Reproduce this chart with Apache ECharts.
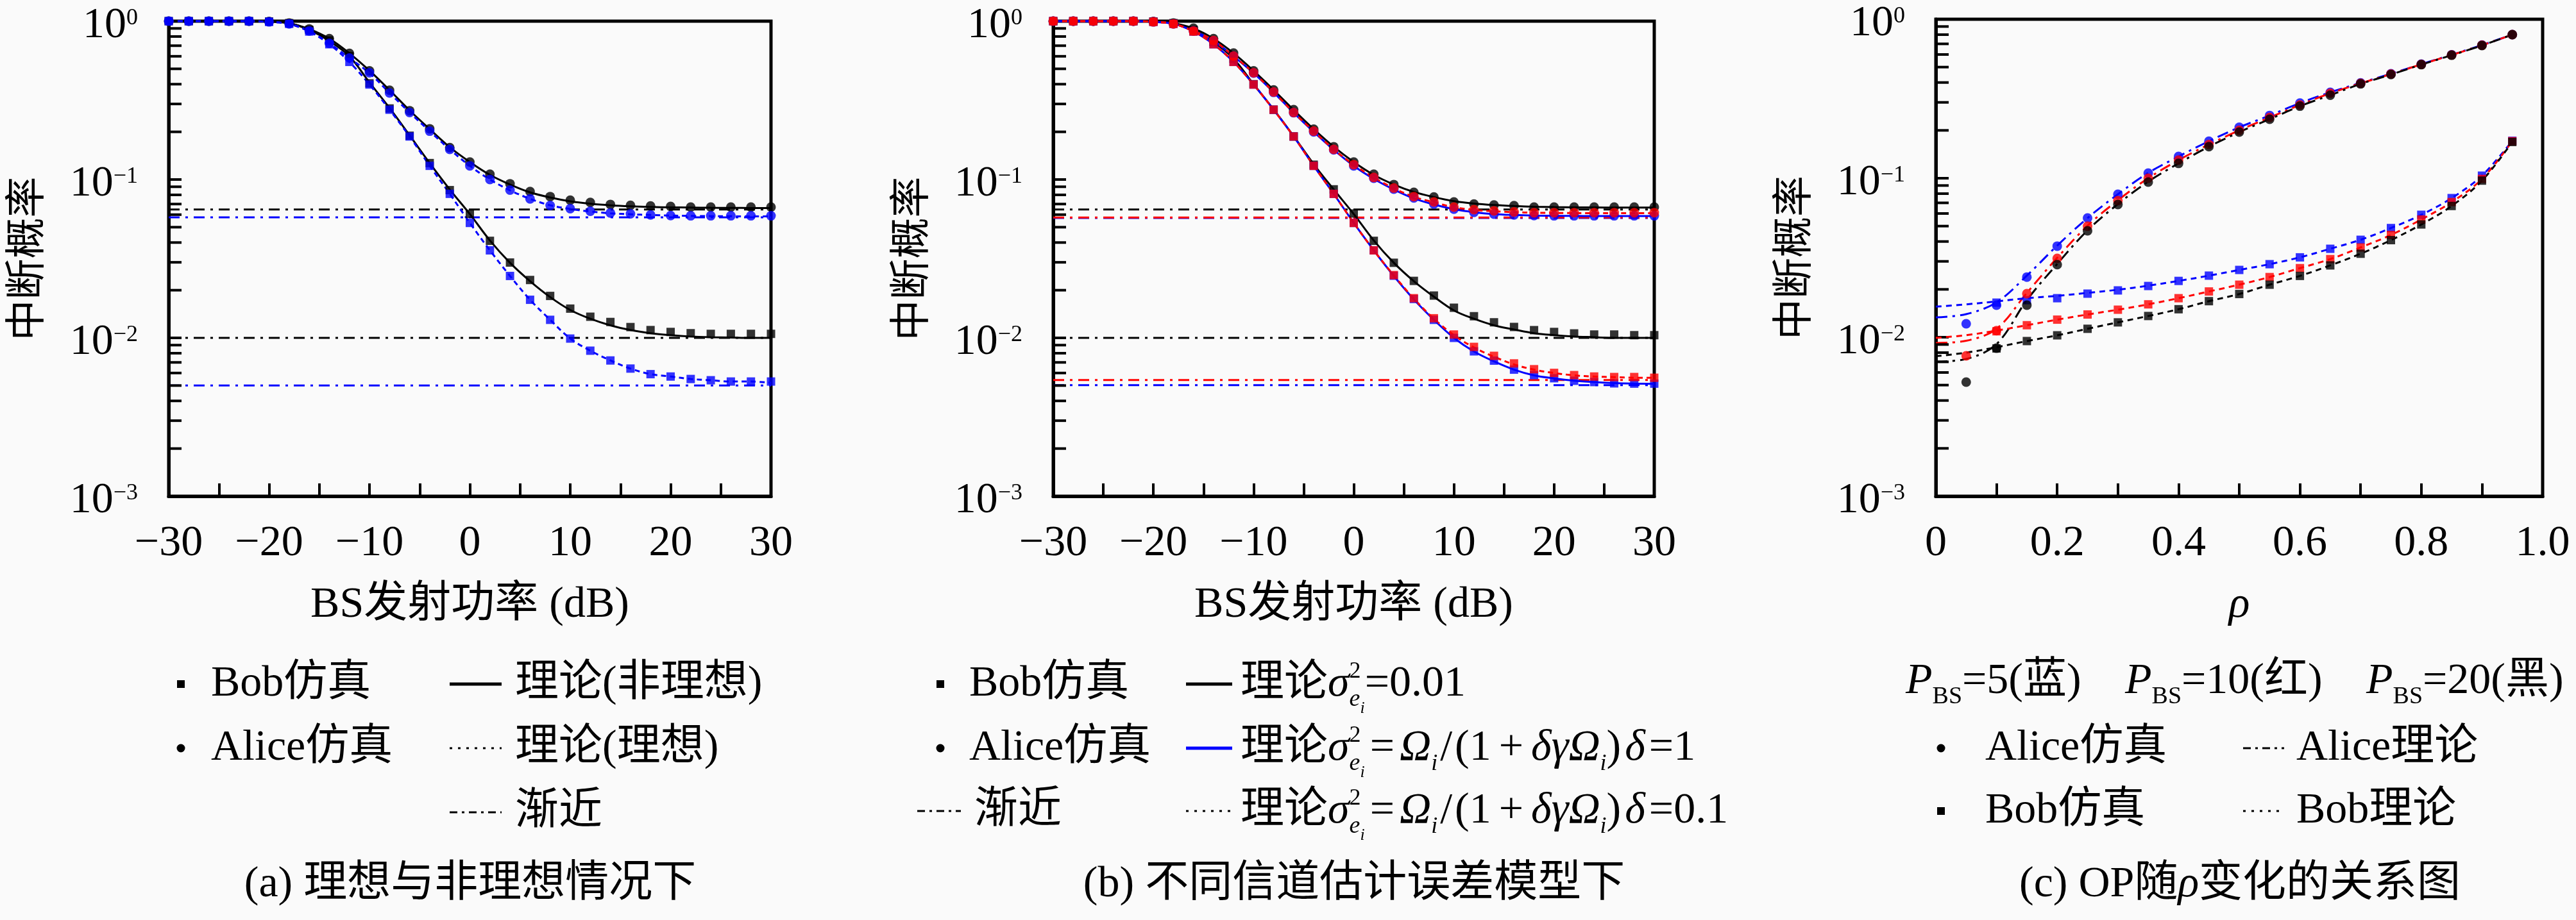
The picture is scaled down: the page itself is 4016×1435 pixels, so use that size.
<!DOCTYPE html>
<html><head><meta charset="utf-8">
<script src="https://cdn.jsdelivr.net/npm/echarts/dist/echarts.min.js"></script>
<style>html,body{margin:0;padding:0;background:#fafafa}#c{width:4016px;height:1435px}</style>
</head><body><div id="c"></div>
<script>
// ---------------- data ----------------
const xA = [-30,-28,-26,-24,-22,-20,-18,-16,-14,-12,-10,-8,-6,-4,-2,0,2,4,6,8,10,12,14,16,18,20,22,24,26,28,30];

// panel (a)
const aAliceSimNon   = [1,1,1,1,1,0.995,0.972,0.893,0.776,0.626,0.485,0.366,0.272,0.209,0.159,0.129,0.108,0.094,0.084,0.078,0.074,0.0717,0.0696,0.0687,0.068,0.0676,0.067,0.067,0.067,0.067,0.067];
const aBobSimNon     = [1,1,1,1,1,0.995,0.972,0.88,0.755,0.602,0.405,0.281,0.189,0.127,0.0857,0.0606,0.041,0.0299,0.0232,0.0184,0.0153,0.0136,0.0126,0.0117,0.0112,0.0109,0.0107,0.0106,0.0106,0.0106,0.0106];
const aAliceSimIdeal = [1,1,1,1,1,0.99,0.962,0.868,0.725,0.585,0.472,0.352,0.265,0.202,0.155,0.122,0.1,0.0857,0.0755,0.0685,0.0655,0.063,0.0615,0.0607,0.0598,0.0592,0.059,0.059,0.059,0.059,0.059];
const aBobSimIdeal   = [1,1,1,1,1,0.99,0.962,0.86,0.715,0.553,0.398,0.276,0.187,0.122,0.0812,0.0532,0.0357,0.0246,0.0174,0.013,0.0099,0.0083,0.0072,0.0064,0.0059,0.0057,0.0055,0.0054,0.0053,0.0053,0.0053];
const aAliceThNon    = [1,1,1,1,1,0.995,0.97,0.89,0.775,0.627,0.487,0.367,0.273,0.208,0.16,0.129,0.107,0.093,0.083,0.077,0.0728,0.0703,0.0687,0.0677,0.0671,0.0667,0.0665,0.0663,0.0662,0.0661,0.0661];
const aBobThNon      = [1,1,1,1,1,0.995,0.97,0.88,0.75,0.60,0.41,0.283,0.19,0.127,0.0865,0.0605,0.0412,0.0298,0.0228,0.0181,0.0150,0.0132,0.0120,0.0112,0.0107,0.0104,0.0102,0.0101,0.01005,0.0100,0.0100];
const aAliceThIdeal  = [1,1,1,1,1,0.99,0.96,0.866,0.725,0.585,0.47,0.352,0.265,0.202,0.155,0.122,0.1,0.0855,0.0755,0.0688,0.0652,0.0628,0.0612,0.0603,0.0597,0.0592,0.0589,0.0587,0.0586,0.0585,0.0585];
const aBobThIdeal    = [1,1,1,1,1,0.99,0.96,0.86,0.715,0.553,0.398,0.276,0.187,0.122,0.0812,0.0532,0.0357,0.0246,0.0174,0.013,0.0099,0.0083,0.0072,0.0064,0.0059,0.0057,0.0055,0.0054,0.0053,0.0053,0.0052];
const asymA = [0.0646, 0.0577, 0.0100, 0.0050];

// panel (b)
const bAliceSim001 = [1,1,1,1,1,0.995,0.972,0.903,0.776,0.629,0.485,0.368,0.276,0.208,0.161,0.129,0.108,0.0929,0.083,0.0775,0.0722,0.070,0.069,0.0684,0.067,0.067,0.067,0.067,0.067,0.067,0.067];
const bAliceSim1   = [1,1,1,1,1,0.99,0.962,0.868,0.75,0.6,0.47,0.355,0.264,0.2,0.154,0.122,0.102,0.087,0.0765,0.07,0.065,0.062,0.0605,0.0598,0.0592,0.059,0.059,0.059,0.059,0.059,0.059];
const bAliceSim01  = [1,1,1,1,1,0.99,0.962,0.868,0.755,0.602,0.472,0.357,0.265,0.202,0.155,0.124,0.103,0.0883,0.078,0.0722,0.067,0.0645,0.0634,0.0624,0.0618,0.0618,0.0618,0.0618,0.0618,0.0618,0.0618];
const bBobSim001   = [1,1,1,1,1,0.995,0.972,0.88,0.74,0.58,0.40,0.276,0.187,0.124,0.0867,0.061,0.041,0.0298,0.0229,0.0185,0.0155,0.0137,0.01254,0.01172,0.01119,0.0109,0.01067,0.0105,0.0105,0.0104,0.0104];
const bBobSim1     = [1,1,1,1,1,0.99,0.962,0.86,0.715,0.553,0.398,0.276,0.187,0.122,0.0812,0.0532,0.0357,0.0247,0.0176,0.013,0.0100,0.00822,0.00718,0.0063,0.00582,0.00556,0.00536,0.00526,0.00516,0.00514,0.00514];
const bBobSim01    = [1,1,1,1,1,0.99,0.962,0.86,0.715,0.553,0.398,0.276,0.187,0.122,0.0812,0.0532,0.0357,0.0249,0.0178,0.0133,0.0105,0.00877,0.0077,0.0069,0.00634,0.00601,0.00582,0.0057,0.00566,0.00566,0.0056];
const bAliceTh001  = [1,1,1,1,1,0.995,0.97,0.9,0.776,0.628,0.486,0.368,0.275,0.208,0.161,0.129,0.107,0.093,0.0835,0.0775,0.073,0.0705,0.069,0.068,0.0673,0.0669,0.0667,0.0666,0.0665,0.0665,0.0665];
const bBobTh001    = [1,1,1,1,1,0.995,0.97,0.88,0.74,0.58,0.40,0.277,0.188,0.125,0.0865,0.0605,0.0412,0.0298,0.0228,0.0182,0.0149,0.0132,0.0120,0.0113,0.0107,0.0104,0.0102,0.0101,0.0100,0.0100,0.0100];
const bAliceTh1    = [1,1,1,1,1,0.99,0.962,0.868,0.75,0.6,0.47,0.355,0.264,0.2,0.154,0.122,0.101,0.0865,0.076,0.0695,0.065,0.0622,0.0605,0.0597,0.0592,0.059,0.0589,0.0588,0.0588,0.0588,0.0588];
const bBobTh1      = [1,1,1,1,1,0.99,0.962,0.86,0.715,0.553,0.398,0.276,0.187,0.122,0.0812,0.0532,0.0357,0.0246,0.0175,0.0130,0.0100,0.0082,0.0071,0.0063,0.0058,0.00555,0.00537,0.00526,0.00518,0.00514,0.00512];
const bAliceTh01   = [1,1,1,1,1,0.99,0.962,0.868,0.755,0.602,0.472,0.357,0.265,0.202,0.155,0.124,0.103,0.088,0.0778,0.0718,0.0668,0.0643,0.0630,0.0622,0.0617,0.0615,0.0614,0.0613,0.0613,0.0613,0.0613];
const bBobTh01     = [1,1,1,1,1,0.99,0.962,0.86,0.715,0.553,0.398,0.276,0.187,0.122,0.0812,0.0532,0.0357,0.0248,0.0177,0.0132,0.0104,0.0087,0.0076,0.0068,0.0063,0.0060,0.0058,0.0057,0.00565,0.0056,0.0056];
const asymB = [0.0647, 0.0572, 0.0575, 0.0100, 0.00503, 0.00542];

// panel (c)
const cAliceX = [0.05,0.1,0.15,0.2,0.25,0.3,0.35,0.4,0.45,0.5,0.55,0.6,0.65,0.7,0.75,0.8,0.85,0.9,0.95];
const cBobX   = [0.1,0.15,0.2,0.25,0.3,0.35,0.4,0.45,0.5,0.55,0.6,0.65,0.7,0.75,0.8,0.85,0.9,0.95];
const cThX    = [0,0.05,0.1,0.15,0.2,0.25,0.3,0.35,0.4,0.45,0.5,0.55,0.6,0.65,0.7,0.75,0.8,0.85,0.9,0.95];
const cAliceSim5  = [0.01216,0.0159,0.0239,0.0374,0.0562,0.0793,0.1077,0.137,0.171,0.209,0.248,0.297,0.347,0.398,0.454,0.522,0.598,0.688,0.80];
const cAliceSim10 = [0.00764,0.011,0.0188,0.0313,0.0499,0.0722,0.1,0.130,0.163,0.200,0.241,0.289,0.342,0.395,0.452,0.520,0.596,0.686,0.80];
const cAliceSim20 = [0.00522,0.00853,0.0159,0.0286,0.0467,0.0684,0.0946,0.124,0.158,0.195,0.235,0.284,0.333,0.392,0.449,0.518,0.594,0.684,0.80];
const cBobSim5  = [0.0165,0.0171,0.0176,0.0188,0.0197,0.021,0.0226,0.0244,0.0265,0.0288,0.0318,0.036,0.041,0.0486,0.0589,0.075,0.1038,0.172];
const cBobSim10 = [0.0109,0.0119,0.0129,0.0139,0.0149,0.0161,0.0176,0.0194,0.0214,0.0239,0.0272,0.031,0.0367,0.044,0.055,0.0708,0.099,0.171];
const cBobSim20 = [0.0085,0.00946,0.01028,0.0113,0.0124,0.0136,0.0150,0.01686,0.0187,0.0214,0.0243,0.0283,0.0335,0.0408,0.0512,0.0669,0.0966,0.169];
const cBobTh5  = [0.01557,0.0161,0.0168,0.0176,0.0182,0.019,0.0199,0.0211,0.0226,0.0244,0.0265,0.0288,0.0318,0.036,0.041,0.0486,0.0589,0.075,0.1038,0.172];
const cBobTh10 = [0.0099,0.0103,0.011,0.0119,0.0129,0.0139,0.0149,0.0161,0.0176,0.0194,0.0214,0.0239,0.0272,0.031,0.0367,0.044,0.055,0.0708,0.099,0.171];
const cBobTh20 = [0.0076,0.008,0.00865,0.00946,0.01028,0.0113,0.0124,0.0136,0.015,0.01686,0.0187,0.0214,0.0243,0.0283,0.0335,0.0408,0.0512,0.0669,0.0966,0.169];
const cAliceTh5  = [0.01333,0.01397,0.01656,0.0244,0.0377,0.0562,0.0793,0.108,0.137,0.171,0.209,0.248,0.297,0.347,0.398,0.454,0.522,0.598,0.688,0.80];
const cAliceTh10 = [0.0092,0.0095,0.0113,0.019,0.0316,0.0503,0.0727,0.1,0.130,0.163,0.2,0.241,0.289,0.342,0.395,0.452,0.52,0.596,0.686,0.80];
const cAliceTh20 = [0.00703,0.0073,0.00906,0.0171,0.0289,0.047,0.0688,0.0953,0.124,0.158,0.195,0.235,0.284,0.333,0.392,0.449,0.518,0.594,0.684,0.80];

// axis tick values
const yMinorTicks = [0.002,0.003,0.004,0.005,0.006,0.007,0.008,0.009,0.02,0.03,0.04,0.05,0.06,0.07,0.08,0.09,0.2,0.3,0.4,0.5,0.6,0.7,0.8,0.9];

// ---------------- styles / helpers ----------------
const FONT = '"Liberation Serif", "Noto Sans CJK SC", serif';
const CJK = '"Noto Sans CJK SC", "Liberation Serif", serif';
const BLACK = '#000000', BLUE = '#0000ff', RED = '#ff0000';
const DOT = [8, 6], DASHDOT = [17, 9, 4, 9], CDOT = [9, 7], CDASHDOT = [18, 8, 4, 8];

function pairs(xs, ys) { return xs.map((x, i) => [x, ys[i]]); }
function sim(gi, xs, ys, shape, color, z) {
  return { type: 'scatter', xAxisIndex: gi, yAxisIndex: gi, data: pairs(xs, ys), symbol: shape,
    symbolSize: shape === 'rect' ? 13 : 15, itemStyle: { color: color }, z: z, silent: true, clip: false };
}
function theory(gi, xs, ys, color, type) {
  return { type: 'line', xAxisIndex: gi, yAxisIndex: gi, data: pairs(xs, ys), showSymbol: false, symbol: 'none',
    smooth: 0.35, lineStyle: { color: color, width: 3, type: type }, z: 2, silent: true, clip: false };
}
function asym(gi, xs, v, color) {
  return { type: 'line', xAxisIndex: gi, yAxisIndex: gi, data: [[xs[0], v], [xs[xs.length - 1], v]], showSymbol: false,
    symbol: 'none', lineStyle: { color: color, width: 3, type: DASHDOT }, z: 1, silent: true, clip: false };
}
function minorTicks(gi, xmin) {
  return { type: 'custom', xAxisIndex: gi, yAxisIndex: gi, silent: true, clip: false, z: 10,
    data: yMinorTicks.map(v => [xmin, v]),
    renderItem: function (params, api) {
      const p = api.coord([api.value(0), api.value(1)]);
      return { type: 'line', shape: { x1: p[0], y1: p[1], x2: p[0] + 20, y2: p[1] }, style: { stroke: '#000', lineWidth: 4 } };
    } };
}
function xAxisCfg(gi, min, max, interval, fmt, name, nameFont) {
  return { gridIndex: gi, type: 'value', min: min, max: max, interval: interval,
    axisLine: { show: true, onZero: false, lineStyle: { color: '#000', width: 5 } },
    axisTick: { show: true, inside: true, length: 20, lineStyle: { color: '#000', width: 4 } },
    splitLine: { show: false },
    axisLabel: { formatter: fmt, margin: 40, fontSize: 68, fontFamily: FONT, color: '#000' },
    name: name, nameLocation: 'middle', nameGap: 136,
    nameTextStyle: { fontSize: 68, fontFamily: FONT, color: '#000', fontStyle: nameFont || 'normal' } };
}
function yAxisCfg(gi) {
  return { gridIndex: gi, type: 'log', logBase: 10, min: 0.001, max: 1,
    axisLine: { show: true, onZero: false, lineStyle: { color: '#000', width: 5 } },
    axisTick: { show: true, inside: true, length: 20, lineStyle: { color: '#000', width: 4 } },
    splitLine: { show: false }, minorTick: { show: false },
    axisLabel: { margin: 48, padding: [14, 0, 0, 0],
      formatter: function (v) { const e = Math.round(Math.log10(v)); return '{b|10}{s|' + (e === 0 ? '0' : '\u2212' + (-e)) + '}'; },
      rich: { b: { fontSize: 68, fontFamily: FONT, color: '#000' }, s: { fontSize: 36, fontFamily: FONT, color: '#000', padding: [0, 0, 22, 0] } } },
    name: '中断概率', nameLocation: 'middle', nameGap: 193,
    nameTextStyle: { fontSize: 64, fontFamily: CJK, color: '#000' } };
}
const fmtDB = v => (v % 10 === 0) ? (v < 0 ? '\u2212' + (-v) : String(v)) : '';
const fmtRho = v => { const k = Math.round(v * 10); if (k % 2) return ''; return k === 0 ? '0' : (k / 10).toFixed(1); };

// text layout helpers for legends (math-like text)
const mctx = document.createElement('canvas').getContext('2d');
function fnt(s, it) { return (it ? 'italic ' : '') + s + 'px ' + FONT; }
function tw(t, s, it) { mctx.font = fnt(s, it); return mctx.measureText(t).width; }
function txtEl(x, y, t, s, it) {
  return { type: 'text', x: x, y: y, silent: true, z: 100,
    style: { text: t, font: fnt(s, it), fill: '#000', textAlign: 'left', textVerticalAlign: 'middle', align: 'left', verticalAlign: 'middle' } };
}
function mathText(x0, y, pieces, align) {
  let x = 0, markX = 0, maxX = 0; const items = [];
  pieces.forEach(p => {
    if (p === 'mark') { markX = x; maxX = x; return; }
    if (p === 'reset') { maxX = Math.max(maxX, x); x = markX; return; }
    if (p === 'join') { x = Math.max(maxX, x); return; }
    if (typeof p === 'number') { x += p; return; }
    const t = p[0], s = p[1] || 68, it = !!p[2], b = p[3] || 0;
    items.push({ t, s, it, b, x });
    x += tw(t, s, it);
  });
  const off = align === 'center' ? x0 - x / 2 : x0;
  return items.map(o => txtEl(off + o.x, y + o.b + 0.34 * (68 - o.s), o.t, o.s, o.it));
}
function lgRect(x, y) { return { type: 'rect', silent: true, z: 100, shape: { x: x - 6, y: y - 6, width: 12, height: 12 }, style: { fill: '#000' } }; }
function lgCircle(x, y) { return { type: 'circle', silent: true, z: 100, shape: { cx: x, cy: y, r: 6.5 }, style: { fill: '#000' } }; }
function lgLine(x1, x2, y, color, width, dash) {
  return { type: 'line', silent: true, z: 100, shape: { x1: x1, y1: y, x2: x2, y2: y }, style: { stroke: color, lineWidth: width, lineDash: dash || null } };
}
const sigmaPart = [['理论'], ['σ', 68, true], 'mark', ['2', 36, false, -30], 'reset', ['e', 38, true, 14], ['i', 26, true, 24], 'join'];
const fracPart = [8, ['='], 8, ['Ω', 68, true], ['i', 36, true, 14], 4, ['/'], 4, ['(1'], 12, ['+'], 12, ['δγΩ', 68, true], ['i', 36, true, 14], [')'], 6, ['δ', 68, true], 6];

const graphics = [].concat(
  // legend (a)
  [lgRect(282, 1067), txtEl(329, 1067, 'Bob仿真', 68), lgLine(701, 782, 1067, '#000', 5), txtEl(803, 1067, '理论(非理想)', 68),
   lgCircle(282, 1167), txtEl(329, 1167, 'Alice仿真', 68), lgLine(701, 782, 1167, '#000', 3, [4, 9]), txtEl(803, 1167, '理论(理想)', 68),
   lgLine(701, 782, 1267, '#000', 3, [12, 7, 4, 7]), txtEl(803, 1267, '渐近', 68)],
  mathText(733, 1380, [['(a) 理想与非理想情况下']], 'center'),
  // legend (b)
  [lgRect(1466, 1067), txtEl(1511, 1067, 'Bob仿真', 68), lgLine(1849, 1921, 1067, '#000', 5),
   lgCircle(1466, 1167), txtEl(1511, 1167, 'Alice仿真', 68), lgLine(1849, 1921, 1167, BLUE, 5),
   lgLine(1430, 1498, 1265, '#000', 3, [12, 7, 4, 7]), txtEl(1519, 1265, '渐近', 68), lgLine(1849, 1921, 1265, '#000', 3, [4, 9])],
  mathText(1934, 1067, sigmaPart.concat([['=0.01']])),
  mathText(1934, 1167, sigmaPart.concat(fracPart, [['=1']])),
  mathText(1934, 1265, sigmaPart.concat(fracPart, [['=0.1']])),
  mathText(2111, 1380, [['(b) 不同信道估计误差模型下']], 'center'),
  // legend (c)
  mathText(2971, 1063, [['P', 68, true], ['BS', 38, false, 14], ['=5(蓝)']]),
  mathText(3313, 1063, [['P', 68, true], ['BS', 38, false, 14], ['=10(红)']]),
  mathText(3689, 1063, [['P', 68, true], ['BS', 38, false, 14], ['=20(黑)']]),
  [lgCircle(3026, 1167), txtEl(3095, 1167, 'Alice仿真', 68), lgLine(3497, 3561, 1167, '#000', 3, [12, 7, 4, 7]), txtEl(3580, 1167, 'Alice理论', 68),
   lgRect(3026, 1265), txtEl(3095, 1265, 'Bob仿真', 68), lgLine(3497, 3561, 1265, '#000', 3, [4, 9]), txtEl(3580, 1265, 'Bob理论', 68)],
  mathText(3492, 1380, [['(c) OP随'], ['ρ', 68, true], ['变化的关系图']], 'center')
);

const series = [
  // (a)
  asym(0, xA, asymA[0], BLACK), asym(0, xA, asymA[1], BLUE), asym(0, xA, asymA[2], BLACK), asym(0, xA, asymA[3], BLUE),
  theory(0, xA, aAliceThNon, BLACK, 'solid'), theory(0, xA, aBobThNon, BLACK, 'solid'),
  theory(0, xA, aAliceThIdeal, BLUE, DOT), theory(0, xA, aBobThIdeal, BLUE, DOT),
  sim(0, xA, aAliceSimNon, 'circle', BLACK, 3), sim(0, xA, aBobSimNon, 'rect', BLACK, 3),
  sim(0, xA, aAliceSimIdeal, 'circle', BLUE, 4), sim(0, xA, aBobSimIdeal, 'rect', BLUE, 4),
  minorTicks(0, -30),
  // (b)
  asym(1, xA, asymB[0], BLACK), asym(1, xA, asymB[1], BLUE), asym(1, xA, asymB[2], RED),
  asym(1, xA, asymB[3], BLACK), asym(1, xA, asymB[4], BLUE), asym(1, xA, asymB[5], RED),
  theory(1, xA, bAliceTh001, BLACK, 'solid'), theory(1, xA, bBobTh001, BLACK, 'solid'),
  theory(1, xA, bAliceTh1, BLUE, 'solid'), theory(1, xA, bBobTh1, BLUE, 'solid'),
  theory(1, xA, bAliceTh01, RED, DOT), theory(1, xA, bBobTh01, RED, DOT),
  sim(1, xA, bAliceSim001, 'circle', BLACK, 3), sim(1, xA, bBobSim001, 'rect', BLACK, 3),
  sim(1, xA, bAliceSim1, 'circle', BLUE, 4), sim(1, xA, bBobSim1, 'rect', BLUE, 4),
  sim(1, xA, bAliceSim01, 'circle', RED, 5), sim(1, xA, bBobSim01, 'rect', RED, 5),
  minorTicks(1, -30),
  // (c)
  theory(2, cThX, cAliceTh5, BLUE, CDASHDOT), theory(2, cThX, cAliceTh10, RED, CDASHDOT), theory(2, cThX, cAliceTh20, BLACK, CDASHDOT),
  theory(2, cThX, cBobTh5, BLUE, CDOT), theory(2, cThX, cBobTh10, RED, CDOT), theory(2, cThX, cBobTh20, BLACK, CDOT),
  sim(2, cBobX, cBobSim5, 'rect', BLUE, 3), sim(2, cBobX, cBobSim10, 'rect', RED, 4), sim(2, cBobX, cBobSim20, 'rect', BLACK, 5),
  sim(2, cAliceX, cAliceSim5, 'circle', BLUE, 3), sim(2, cAliceX, cAliceSim10, 'circle', RED, 4), sim(2, cAliceX, cAliceSim20, 'circle', BLACK, 5),
  minorTicks(2, 0)
];

const chart = echarts.init(document.getElementById('c'), null, { renderer: 'canvas', width: 4016, height: 1435 });
chart.setOption({
  backgroundColor: '#fafafa',
  animation: false,
  grid: [
    { left: 263, top: 33, width: 939, height: 741, show: true, borderColor: '#000', borderWidth: 5, backgroundColor: 'transparent' },
    { left: 1642, top: 33, width: 937, height: 741, show: true, borderColor: '#000', borderWidth: 5, backgroundColor: 'transparent' },
    { left: 3018, top: 30, width: 946, height: 744, show: true, borderColor: '#000', borderWidth: 5, backgroundColor: 'transparent' }
  ],
  xAxis: [
    xAxisCfg(0, -30, 30, 5, fmtDB, 'BS发射功率 (dB)'),
    xAxisCfg(1, -30, 30, 5, fmtDB, 'BS发射功率 (dB)'),
    xAxisCfg(2, 0, 1, 0.1, fmtRho, 'ρ', 'italic')
  ],
  yAxis: [yAxisCfg(0), yAxisCfg(1), yAxisCfg(2)],
  series: series,
  graphic: { elements: graphics }
});
</script></body></html>
